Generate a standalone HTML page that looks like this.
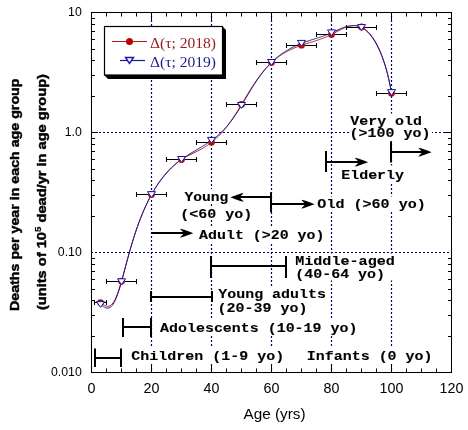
<!DOCTYPE html>
<html><head><meta charset="utf-8"><style>
html,body{margin:0;padding:0;background:#fff;width:468px;height:430px;overflow:hidden}
svg{position:absolute;left:0;top:0;display:block;will-change:transform}
</style></head><body>
<svg width="468" height="430" viewBox="0 0 468 430">
<line x1="151.5" y1="12" x2="151.5" y2="372" stroke="#00006a" stroke-width="1.2" stroke-dasharray="2 2" fill="none"/>
<line x1="211.5" y1="12" x2="211.5" y2="372" stroke="#00006a" stroke-width="1.2" stroke-dasharray="2 2" fill="none"/>
<line x1="271.5" y1="12" x2="271.5" y2="372" stroke="#00006a" stroke-width="1.2" stroke-dasharray="2 2" fill="none"/>
<line x1="331.5" y1="12" x2="331.5" y2="372" stroke="#00006a" stroke-width="1.2" stroke-dasharray="2 2" fill="none"/>
<line x1="391.5" y1="12" x2="391.5" y2="372" stroke="#00006a" stroke-width="1.2" stroke-dasharray="2 2" fill="none"/>
<line x1="91" y1="132.5" x2="451" y2="132.5" stroke="#00006a" stroke-width="1.2" stroke-dasharray="2 2" fill="none"/>
<line x1="91" y1="252.5" x2="451" y2="252.5" stroke="#00006a" stroke-width="1.2" stroke-dasharray="2 2" fill="none"/>
<rect x="349.5" y="113.5" width="82.5" height="28.0" fill="#fff"/>
<rect x="340.0" y="165.5" width="66.0" height="18.0" fill="#fff"/>
<rect x="182.0" y="189.0" width="48.0" height="14.5" fill="#fff"/>
<rect x="180.0" y="206.0" width="73.0" height="14.0" fill="#fff"/>
<rect x="315.0" y="196.5" width="110.0" height="15.5" fill="#fff"/>
<rect x="197.0" y="226.0" width="129.0" height="18.0" fill="#fff"/>
<rect x="293.0" y="253.5" width="102.0" height="27.0" fill="#fff"/>
<rect x="216.0" y="287.0" width="112.0" height="31.0" fill="#fff"/>
<rect x="158.0" y="319.0" width="200.0" height="17.0" fill="#fff"/>
<rect x="129.0" y="347.0" width="157.0" height="17.0" fill="#fff"/>
<rect x="305.0" y="347.0" width="127.0" height="17.0" fill="#fff"/>
<rect x="91.5" y="12.5" width="360" height="360" fill="none" stroke="#000" stroke-width="1.05"/>
<path d="M106.5,372V368.5 M106.5,13V16.5 M121.5,372V368.5 M121.5,13V16.5 M136.5,372V368.5 M136.5,13V16.5 M151.5,372V365.0 M151.5,13V20.0 M166.5,372V368.5 M166.5,13V16.5 M181.5,372V368.5 M181.5,13V16.5 M196.5,372V368.5 M196.5,13V16.5 M211.5,372V365.0 M211.5,13V20.0 M226.5,372V368.5 M226.5,13V16.5 M241.5,372V368.5 M241.5,13V16.5 M256.5,372V368.5 M256.5,13V16.5 M271.5,372V365.0 M271.5,13V20.0 M286.5,372V368.5 M286.5,13V16.5 M301.5,372V368.5 M301.5,13V16.5 M316.5,372V368.5 M316.5,13V16.5 M331.5,372V365.0 M331.5,13V20.0 M346.5,372V368.5 M346.5,13V16.5 M361.5,372V368.5 M361.5,13V16.5 M376.5,372V368.5 M376.5,13V16.5 M391.5,372V365.0 M391.5,13V20.0 M406.5,372V368.5 M406.5,13V16.5 M421.5,372V368.5 M421.5,13V16.5 M436.5,372V368.5 M436.5,13V16.5 M91,336.5H95.0 M452,336.5H448.0 M91,315.5H95.0 M452,315.5H448.0 M91,300.5H95.0 M452,300.5H448.0 M91,289.5H95.0 M452,289.5H448.0 M91,279.5H95.0 M452,279.5H448.0 M91,271.5H95.0 M452,271.5H448.0 M91,264.5H95.0 M452,264.5H448.0 M91,258.5H95.0 M452,258.5H448.0 M91,132.5H98.0 M452,132.5H445.0 M91,216.5H95.0 M452,216.5H448.0 M91,195.5H95.0 M452,195.5H448.0 M91,180.5H95.0 M452,180.5H448.0 M91,169.5H95.0 M452,169.5H448.0 M91,159.5H95.0 M452,159.5H448.0 M91,151.5H95.0 M452,151.5H448.0 M91,144.5H95.0 M452,144.5H448.0 M91,138.5H95.0 M452,138.5H448.0 M91,12.5H98.0 M452,12.5H445.0 M91,96.5H95.0 M452,96.5H448.0 M91,75.5H95.0 M452,75.5H448.0 M91,60.5H95.0 M452,60.5H448.0 M91,49.5H95.0 M452,49.5H448.0 M91,39.5H95.0 M452,39.5H448.0 M91,31.5H95.0 M452,31.5H448.0 M91,24.5H95.0 M452,24.5H448.0 M91,18.5H95.0 M452,18.5H448.0" stroke="#000" stroke-width="1" fill="none"/>
<path d="M95.0,348.5V367.0 M121.0,348.5V367.0 M95.0,358.0H121.0 M123.0,318.0V337.0 M151.0,318.0V337.0 M123.0,327.0H151.0 M151.0,291.0V302.0 M212.0,291.0V302.0 M151.0,297.0H212.0 M211.0,256.0V278.0 M286.0,256.0V278.0 M211.0,266.0H286.0 M271.0,192.2V212.2 M271.0,197.0H233.0 M272.0,204.0H310.0 M151.0,233.0H189.0 M326.0,151.0V172.0 M326.0,162.0H363.0 M391.0,141.3V162.5 M391.0,152.0H426.0" stroke="#000" stroke-width="2" fill="none"/>
<polygon points="431.60,152.20 428.00,150.80 422.50,148.80 418.60,147.70 419.00,148.70 421.40,151.10 421.40,153.30 419.00,155.70 418.60,156.70 422.50,155.60 428.00,153.60" fill="#000"/>
<polygon points="368.10,162.20 364.50,160.80 359.00,158.80 355.10,157.70 355.50,158.70 357.90,161.10 357.90,163.30 355.50,165.70 355.10,166.70 359.00,165.60 364.50,163.60" fill="#000"/>
<polygon points="314.60,204.20 311.00,202.80 305.50,200.80 301.60,199.70 302.00,200.70 304.40,203.10 304.40,205.30 302.00,207.70 301.60,208.70 305.50,207.60 311.00,205.60" fill="#000"/>
<polygon points="193.30,233.20 189.70,231.80 184.20,229.80 180.30,228.70 180.70,229.70 183.10,232.10 183.10,234.30 180.70,236.70 180.30,237.70 184.20,236.60 189.70,234.60" fill="#000"/>
<polygon points="230.40,197.30 234.00,195.90 239.50,193.90 243.40,192.80 243.00,193.80 240.60,196.20 240.60,198.40 243.00,200.80 243.40,201.80 239.50,200.70 234.00,198.70" fill="#000"/>
<path d="M100.50,302.60 L101.47,303.32 L102.45,304.03 L103.42,304.69 L104.39,305.29 L105.37,305.78 L106.34,306.15 L107.31,306.35 L108.29,306.37 L109.26,306.17 L110.23,305.73 L111.21,305.03 L112.18,304.05 L113.15,302.79 L114.13,301.24 L115.10,299.41 L116.07,297.29 L117.05,294.91 L118.02,292.28 L118.99,289.43 L119.96,286.37 L120.94,283.14 L121.91,279.75 L122.88,276.25 L123.86,272.68 L124.83,269.07 L125.80,265.45 L126.78,261.86 L127.75,258.30 L128.72,254.79 L129.70,251.35 L130.67,247.98 L131.64,244.68 L132.62,241.47 L133.59,238.34 L134.56,235.29 L135.54,232.33 L136.51,229.45 L137.48,226.65 L138.46,223.93 L139.43,221.30 L140.40,218.74 L141.38,216.26 L142.35,213.86 L143.32,211.52 L144.30,209.26 L145.27,207.06 L146.24,204.93 L147.22,202.87 L148.19,200.87 L149.16,198.92 L150.14,197.04 L151.11,195.22 L152.08,193.45 L153.06,191.73 L154.03,190.07 L155.00,188.46 L155.97,186.89 L156.95,185.38 L157.92,183.90 L158.89,182.48 L159.87,181.09 L160.84,179.75 L161.81,178.44 L162.79,177.18 L163.76,175.95 L164.73,174.77 L165.71,173.62 L166.68,172.50 L167.65,171.42 L168.63,170.37 L169.60,169.36 L170.57,168.38 L171.55,167.43 L172.52,166.52 L173.49,165.63 L174.47,164.78 L175.44,163.96 L176.41,163.17 L177.39,162.40 L178.36,161.67 L179.33,160.97 L180.31,160.29 L181.28,159.64 L182.25,159.02 L183.23,158.43 L184.20,157.86 L185.17,157.31 L186.15,156.78 L187.12,156.26 L188.09,155.76 L189.07,155.26 L190.04,154.78 L191.01,154.30 L191.98,153.82 L192.96,153.34 L193.93,152.86 L194.90,152.39 L195.88,151.90 L196.85,151.41 L197.82,150.91 L198.80,150.40 L199.77,149.89 L200.74,149.35 L201.72,148.81 L202.69,148.25 L203.66,147.67 L204.64,147.08 L205.61,146.46 L206.58,145.83 L207.56,145.18 L208.53,144.50 L209.50,143.80 L210.48,143.08 L211.45,142.34 L212.42,141.57 L213.40,140.78 L214.37,139.96 L215.34,139.11 L216.32,138.23 L217.29,137.31 L218.26,136.37 L219.24,135.39 L220.21,134.38 L221.18,133.33 L222.16,132.25 L223.13,131.14 L224.10,129.99 L225.08,128.81 L226.05,127.59 L227.02,126.34 L227.99,125.06 L228.97,123.74 L229.94,122.40 L230.91,121.02 L231.89,119.62 L232.86,118.19 L233.83,116.73 L234.81,115.25 L235.78,113.75 L236.75,112.22 L237.73,110.67 L238.70,109.10 L239.67,107.52 L240.65,105.92 L241.62,104.30 L242.59,102.67 L243.57,101.03 L244.54,99.39 L245.51,97.76 L246.49,96.12 L247.46,94.50 L248.43,92.90 L249.41,91.31 L250.38,89.74 L251.35,88.19 L252.33,86.66 L253.30,85.16 L254.27,83.68 L255.25,82.23 L256.22,80.81 L257.19,79.42 L258.17,78.06 L259.14,76.73 L260.11,75.42 L261.09,74.16 L262.06,72.92 L263.03,71.71 L264.01,70.54 L264.98,69.40 L265.95,68.29 L266.92,67.22 L267.90,66.17 L268.87,65.16 L269.84,64.19 L270.82,63.24 L271.79,62.33 L272.76,61.45 L273.74,60.60 L274.71,59.79 L275.68,59.00 L276.66,58.23 L277.63,57.50 L278.60,56.78 L279.58,56.09 L280.55,55.43 L281.52,54.78 L282.50,54.16 L283.47,53.56 L284.44,52.97 L285.42,52.40 L286.39,51.86 L287.36,51.32 L288.34,50.81 L289.31,50.31 L290.28,49.83 L291.26,49.36 L292.23,48.90 L293.20,48.46 L294.18,48.03 L295.15,47.62 L296.12,47.22 L297.10,46.83 L298.07,46.45 L299.04,46.08 L300.02,45.72 L300.99,45.38 L301.96,45.04 L302.93,44.72 L303.91,44.40 L304.88,44.09 L305.85,43.78 L306.83,43.48 L307.80,43.18 L308.77,42.89 L309.75,42.59 L310.72,42.30 L311.69,42.01 L312.67,41.71 L313.64,41.41 L314.61,41.11 L315.59,40.81 L316.56,40.50 L317.53,40.18 L318.51,39.86 L319.48,39.52 L320.45,39.18 L321.43,38.83 L322.40,38.47 L323.37,38.10 L324.35,37.72 L325.32,37.33 L326.29,36.92 L327.27,36.50 L328.24,36.06 L329.21,35.62 L330.19,35.15 L331.16,34.67 L332.13,34.18 L333.11,33.67 L334.08,33.15 L335.05,32.63 L336.03,32.10 L337.00,31.57 L337.97,31.05 L338.94,30.54 L339.92,30.04 L340.89,29.55 L341.86,29.07 L342.84,28.62 L343.81,28.18 L344.78,27.77 L345.76,27.39 L346.73,27.04 L347.70,26.71 L348.68,26.43 L349.65,26.17 L350.62,25.96 L351.60,25.79 L352.57,25.66 L353.54,25.57 L354.52,25.54 L355.49,25.55 L356.46,25.63 L357.44,25.76 L358.41,25.95 L359.38,26.20 L360.36,26.53 L361.33,26.92 L362.30,27.40 L363.28,27.95 L364.25,28.58 L365.22,29.29 L366.20,30.08 L367.17,30.95 L368.14,31.90 L369.12,32.93 L370.09,34.05 L371.06,35.25 L372.04,36.54 L373.01,37.93 L373.98,39.41 L374.95,41.00 L375.93,42.68 L376.90,44.48 L377.87,46.40 L378.85,48.44 L379.82,50.61 L380.79,52.92 L381.77,55.39 L382.74,58.03 L383.71,60.85 L384.69,63.86 L385.66,67.10 L386.63,70.59 L387.61,74.36 L388.58,78.45 L389.55,82.90 L390.53,87.79 L391.50,93.20" stroke="#b01818" stroke-width="1" fill="none"/>
<path d="M100.50,304.45 L101.47,305.17 L102.45,305.88 L103.42,306.54 L104.39,307.13 L105.37,307.61 L106.34,307.96 L107.31,308.14 L108.29,308.12 L109.26,307.87 L110.23,307.37 L111.21,306.61 L112.18,305.55 L113.15,304.21 L114.13,302.56 L115.10,300.62 L116.07,298.40 L117.05,295.91 L118.02,293.17 L118.99,290.20 L119.96,287.04 L120.94,283.70 L121.91,280.21 L122.88,276.61 L123.86,272.95 L124.83,269.26 L125.80,265.57 L126.78,261.92 L127.75,258.30 L128.72,254.75 L129.70,251.27 L130.67,247.86 L131.64,244.54 L132.62,241.30 L133.59,238.15 L134.56,235.09 L135.54,232.12 L136.51,229.24 L137.48,226.44 L138.46,223.73 L139.43,221.10 L140.40,218.56 L141.38,216.09 L142.35,213.70 L143.32,211.38 L144.30,209.14 L145.27,206.97 L146.24,204.86 L147.22,202.83 L148.19,200.85 L149.16,198.94 L150.14,197.09 L151.11,195.30 L152.08,193.57 L153.06,191.89 L154.03,190.27 L155.00,188.69 L155.97,187.17 L156.95,185.69 L157.92,184.25 L158.89,182.85 L159.87,181.50 L160.84,180.18 L161.81,178.90 L162.79,177.66 L163.76,176.45 L164.73,175.27 L165.71,174.13 L166.68,173.02 L167.65,171.93 L168.63,170.88 L169.60,169.86 L170.57,168.86 L171.55,167.89 L172.52,166.95 L173.49,166.04 L174.47,165.14 L175.44,164.28 L176.41,163.43 L177.39,162.61 L178.36,161.82 L179.33,161.04 L180.31,160.29 L181.28,159.56 L182.25,158.85 L183.23,158.17 L184.20,157.49 L185.17,156.84 L186.15,156.20 L187.12,155.57 L188.09,154.95 L189.07,154.35 L190.04,153.75 L191.01,153.15 L191.98,152.56 L192.96,151.98 L193.93,151.40 L194.90,150.82 L195.88,150.24 L196.85,149.66 L197.82,149.08 L198.80,148.50 L199.77,147.91 L200.74,147.32 L201.72,146.73 L202.69,146.12 L203.66,145.52 L204.64,144.90 L205.61,144.28 L206.58,143.64 L207.56,143.00 L208.53,142.35 L209.50,141.69 L210.48,141.02 L211.45,140.34 L212.42,139.64 L213.40,138.93 L214.37,138.20 L215.34,137.46 L216.32,136.69 L217.29,135.89 L218.26,135.07 L219.24,134.22 L220.21,133.34 L221.18,132.42 L222.16,131.47 L223.13,130.49 L224.10,129.47 L225.08,128.42 L226.05,127.32 L227.02,126.19 L227.99,125.03 L228.97,123.83 L229.94,122.59 L230.91,121.31 L231.89,120.00 L232.86,118.66 L233.83,117.28 L234.81,115.87 L235.78,114.43 L236.75,112.96 L237.73,111.46 L238.70,109.93 L239.67,108.38 L240.65,106.80 L241.62,105.20 L242.59,103.58 L243.57,101.95 L244.54,100.31 L245.51,98.66 L246.49,97.02 L247.46,95.38 L248.43,93.76 L249.41,92.14 L250.38,90.54 L251.35,88.96 L252.33,87.40 L253.30,85.87 L254.27,84.35 L255.25,82.86 L256.22,81.40 L257.19,79.97 L258.17,78.56 L259.14,77.19 L260.11,75.84 L261.09,74.52 L262.06,73.24 L263.03,71.98 L264.01,70.76 L264.98,69.57 L265.95,68.41 L266.92,67.28 L267.90,66.18 L268.87,65.12 L269.84,64.08 L270.82,63.08 L271.79,62.11 L272.76,61.18 L273.74,60.27 L274.71,59.39 L275.68,58.54 L276.66,57.72 L277.63,56.92 L278.60,56.15 L279.58,55.40 L280.55,54.67 L281.52,53.96 L282.50,53.28 L283.47,52.61 L284.44,51.97 L285.42,51.34 L286.39,50.74 L287.36,50.15 L288.34,49.58 L289.31,49.02 L290.28,48.48 L291.26,47.96 L292.23,47.45 L293.20,46.96 L294.18,46.48 L295.15,46.01 L296.12,45.56 L297.10,45.12 L298.07,44.70 L299.04,44.29 L300.02,43.89 L300.99,43.50 L301.96,43.12 L302.93,42.76 L303.91,42.40 L304.88,42.06 L305.85,41.72 L306.83,41.39 L307.80,41.07 L308.77,40.75 L309.75,40.43 L310.72,40.12 L311.69,39.81 L312.67,39.50 L313.64,39.19 L314.61,38.89 L315.59,38.58 L316.56,38.27 L317.53,37.96 L318.51,37.64 L319.48,37.32 L320.45,37.00 L321.43,36.67 L322.40,36.33 L323.37,35.99 L324.35,35.64 L325.32,35.29 L326.29,34.92 L327.27,34.55 L328.24,34.16 L329.21,33.77 L330.19,33.36 L331.16,32.95 L332.13,32.52 L333.11,32.09 L334.08,31.64 L335.05,31.20 L336.03,30.75 L337.00,30.31 L337.97,29.87 L338.94,29.45 L339.92,29.03 L340.89,28.62 L341.86,28.23 L342.84,27.86 L343.81,27.51 L344.78,27.19 L345.76,26.89 L346.73,26.61 L347.70,26.37 L348.68,26.16 L349.65,25.98 L350.62,25.84 L351.60,25.73 L352.57,25.67 L353.54,25.65 L354.52,25.68 L355.49,25.76 L356.46,25.88 L357.44,26.07 L358.41,26.31 L359.38,26.61 L360.36,26.98 L361.33,27.42 L362.30,27.93 L363.28,28.51 L364.25,29.17 L365.22,29.90 L366.20,30.71 L367.17,31.60 L368.14,32.56 L369.12,33.61 L370.09,34.73 L371.06,35.94 L372.04,37.24 L373.01,38.62 L373.98,40.10 L374.95,41.67 L375.93,43.34 L376.90,45.12 L377.87,47.02 L378.85,49.03 L379.82,51.17 L380.79,53.44 L381.77,55.87 L382.74,58.45 L383.71,61.21 L384.69,64.15 L385.66,67.31 L386.63,70.70 L387.61,74.36 L388.58,78.32 L389.55,82.62 L390.53,87.32 L391.50,92.50" stroke="#1a1a96" stroke-width="1" fill="none"/>
<path d="M94.5,302.5H106.5 M94.5,300.0V305.0 M106.5,300.0V305.0 M106.5,281.5H136.5 M106.5,279.0V284.0 M136.5,279.0V284.0 M136.5,194.5H166.5 M136.5,192.0V197.0 M166.5,192.0V197.0 M166.5,159.5H196.5 M166.5,157.0V162.0 M196.5,157.0V162.0 M196.5,142.5H226.5 M196.5,140.0V145.0 M226.5,140.0V145.0 M226.5,104.5H256.5 M226.5,102.0V107.0 M256.5,102.0V107.0 M256.5,62.5H286.5 M256.5,60.0V65.0 M286.5,60.0V65.0 M286.5,45.5H316.5 M286.5,43.0V48.0 M316.5,43.0V48.0 M316.5,34.5H346.5 M316.5,32.0V37.0 M346.5,32.0V37.0 M346.5,27.5H376.5 M346.5,25.0V30.0 M376.5,25.0V30.0 M376.5,93.5H406.5 M376.5,91.0V96.0 M406.5,91.0V96.0" stroke="#000" stroke-width="1.05" fill="none"/>
<circle cx="100.5" cy="302.6" r="3.4" fill="#b80c14"/>
<polygon points="96.5,301.6 104.5,301.6 100.5,307.4" fill="#fff" stroke="#1010a0" stroke-width="1.0"/>
<circle cx="121.5" cy="281.2" r="3.4" fill="#b80c14"/>
<polygon points="117.5,278.8 125.5,278.8 121.5,284.7" fill="#fff" stroke="#1010a0" stroke-width="1.0"/>
<circle cx="151.5" cy="194.5" r="3.4" fill="#b80c14"/>
<polygon points="147.5,191.7 155.5,191.7 151.5,197.6" fill="#fff" stroke="#1010a0" stroke-width="1.0"/>
<circle cx="181.5" cy="159.5" r="3.4" fill="#b80c14"/>
<polygon points="177.5,156.5 185.5,156.5 181.5,162.4" fill="#fff" stroke="#1010a0" stroke-width="1.0"/>
<circle cx="211.5" cy="142.3" r="3.4" fill="#b80c14"/>
<polygon points="207.5,137.4 215.5,137.4 211.5,143.3" fill="#fff" stroke="#1010a0" stroke-width="1.0"/>
<circle cx="241.5" cy="104.5" r="3.4" fill="#b80c14"/>
<polygon points="237.5,102.5 245.5,102.5 241.5,108.4" fill="#fff" stroke="#1010a0" stroke-width="1.0"/>
<circle cx="271.5" cy="62.6" r="3.4" fill="#b80c14"/>
<polygon points="267.5,59.5 275.5,59.5 271.5,65.4" fill="#fff" stroke="#1010a0" stroke-width="1.0"/>
<circle cx="301.5" cy="45.2" r="3.4" fill="#b80c14"/>
<polygon points="297.5,40.4 305.5,40.4 301.5,46.3" fill="#fff" stroke="#1010a0" stroke-width="1.0"/>
<circle cx="331.5" cy="34.5" r="3.4" fill="#b80c14"/>
<polygon points="327.5,29.9 335.5,29.9 331.5,35.8" fill="#fff" stroke="#1010a0" stroke-width="1.0"/>
<circle cx="361.5" cy="27.0" r="3.4" fill="#b80c14"/>
<polygon points="357.5,24.6 365.5,24.6 361.5,30.5" fill="#fff" stroke="#1010a0" stroke-width="1.0"/>
<circle cx="391.5" cy="93.2" r="3.4" fill="#b80c14"/>
<polygon points="387.5,89.6 395.5,89.6 391.5,95.5" fill="#fff" stroke="#1010a0" stroke-width="1.0"/>
<polygon points="104,75 222,75 222,26 226,30 226,79 108,79" fill="#000"/>
<rect x="104.5" y="26.5" width="118" height="48.5" fill="#fff" stroke="#000" stroke-width="1.2"/>
<line x1="112" y1="41.5" x2="147" y2="41.5" stroke="#b01818" stroke-width="1.2"/>
<circle cx="129.5" cy="41.5" r="3.5" fill="#c00000"/>
<line x1="120" y1="60.5" x2="145" y2="60.5" stroke="#1a1a96" stroke-width="1.2"/>
<polygon points="125.5,57.5 133.5,57.5 129.5,63.5" fill="#fff" stroke="#1a1aa0" stroke-width="1.4"/>
<text x="150" y="48" font-family="Liberation Serif" font-size="15.5" fill="#9a1a22" textLength="66" lengthAdjust="spacingAndGlyphs">&#916;(&#964;; 2018)</text>
<text x="150" y="67" font-family="Liberation Serif" font-size="15.5" fill="#1c1c8c" textLength="66" lengthAdjust="spacingAndGlyphs">&#916;(&#964;; 2019)</text>
<text x="350.28" y="124.90" font-family="Liberation Mono" font-weight="bold" font-size="12.20" fill="#000" stroke="#000" stroke-width="0.1" textLength="71.74" lengthAdjust="spacingAndGlyphs">Very old</text>
<text x="349.48" y="137.40" font-family="Liberation Mono" font-weight="bold" font-size="12.20" fill="#000" stroke="#000" stroke-width="0.1" textLength="80.93" lengthAdjust="spacingAndGlyphs">(&gt;100 yo)</text>
<text x="341.20" y="178.60" font-family="Liberation Mono" font-weight="bold" font-size="12.20" fill="#000" stroke="#000" stroke-width="0.1" textLength="62.89" lengthAdjust="spacingAndGlyphs">Elderly</text>
<text x="184.48" y="200.50" font-family="Liberation Mono" font-weight="bold" font-size="12.20" fill="#000" stroke="#000" stroke-width="0.1" textLength="43.94" lengthAdjust="spacingAndGlyphs">Young</text>
<text x="180.28" y="217.60" font-family="Liberation Mono" font-weight="bold" font-size="12.20" fill="#000" stroke="#000" stroke-width="0.1" textLength="72.04" lengthAdjust="spacingAndGlyphs">(&lt;60 yo)</text>
<text x="317.37" y="207.80" font-family="Liberation Mono" font-weight="bold" font-size="12.20" fill="#000" stroke="#000" stroke-width="0.1" textLength="108.46" lengthAdjust="spacingAndGlyphs">Old (&gt;60 yo)</text>
<text x="199.10" y="238.90" font-family="Liberation Mono" font-weight="bold" font-size="12.20" fill="#000" stroke="#000" stroke-width="0.1" textLength="125.41" lengthAdjust="spacingAndGlyphs">Adult (&gt;20 yo)</text>
<text x="295.17" y="264.60" font-family="Liberation Mono" font-weight="bold" font-size="12.20" fill="#000" stroke="#000" stroke-width="0.1" textLength="99.66" lengthAdjust="spacingAndGlyphs">Middle-aged</text>
<text x="295.18" y="277.60" font-family="Liberation Mono" font-weight="bold" font-size="12.20" fill="#000" stroke="#000" stroke-width="0.1" textLength="89.93" lengthAdjust="spacingAndGlyphs">(40-64 yo)</text>
<text x="218.28" y="298.40" font-family="Liberation Mono" font-weight="bold" font-size="12.20" fill="#000" stroke="#000" stroke-width="0.1" textLength="107.63" lengthAdjust="spacingAndGlyphs">Young adults</text>
<text x="217.58" y="311.50" font-family="Liberation Mono" font-weight="bold" font-size="12.20" fill="#000" stroke="#000" stroke-width="0.1" textLength="90.04" lengthAdjust="spacingAndGlyphs">(20-39 yo)</text>
<text x="160.10" y="331.50" font-family="Liberation Mono" font-weight="bold" font-size="12.20" fill="#000" stroke="#000" stroke-width="0.1" textLength="197.31" lengthAdjust="spacingAndGlyphs">Adolescents (10-19 yo)</text>
<text x="131.31" y="360.00" font-family="Liberation Mono" font-weight="bold" font-size="12.20" fill="#000" stroke="#000" stroke-width="0.1" textLength="152.90" lengthAdjust="spacingAndGlyphs">Children (1-9 yo)</text>
<text x="306.85" y="360.00" font-family="Liberation Mono" font-weight="bold" font-size="12.20" fill="#000" stroke="#000" stroke-width="0.1" textLength="125.66" lengthAdjust="spacingAndGlyphs">Infants (0 yo)</text>
<text x="91.5" y="393" font-family="Liberation Sans" fill="#000" font-size="14.3" text-anchor="middle">0</text>
<text x="151.5" y="393" font-family="Liberation Sans" fill="#000" font-size="14.3" text-anchor="middle">20</text>
<text x="211.5" y="393" font-family="Liberation Sans" fill="#000" font-size="14.3" text-anchor="middle">40</text>
<text x="271.5" y="393" font-family="Liberation Sans" fill="#000" font-size="14.3" text-anchor="middle">60</text>
<text x="331.5" y="393" font-family="Liberation Sans" fill="#000" font-size="14.3" text-anchor="middle">80</text>
<text x="391.5" y="393" font-family="Liberation Sans" fill="#000" font-size="14.3" text-anchor="middle">100</text>
<text x="451.5" y="393" font-family="Liberation Sans" fill="#000" font-size="14.3" text-anchor="middle">120</text>
<text x="81.8" y="15.8" font-family="Liberation Sans" fill="#000" font-size="12.3" text-anchor="end">10</text>
<text x="81.8" y="135.8" font-family="Liberation Sans" fill="#000" font-size="12.3" text-anchor="end">1.0</text>
<text x="81.8" y="255.8" font-family="Liberation Sans" fill="#000" font-size="12.3" text-anchor="end">0.10</text>
<text x="81.8" y="375.8" font-family="Liberation Sans" fill="#000" font-size="12.3" text-anchor="end">0.010</text>
<text x="243.6" y="419" font-family="Liberation Sans" fill="#000" font-size="14.5" textLength="62" lengthAdjust="spacingAndGlyphs">Age (yrs)</text>
<g transform="translate(18.7,311) rotate(-90)"><text x="0" y="0" font-family="Liberation Sans" fill="#000" font-weight="bold" font-size="13.2" stroke="#000" stroke-width="0.45" textLength="232.5" lengthAdjust="spacingAndGlyphs">Deaths per year in each age group</text></g>
<g transform="translate(46,310) rotate(-90)"><text x="0" y="0" font-family="Liberation Sans" fill="#000" font-weight="bold" font-size="13.2" stroke="#000" stroke-width="0.45" textLength="236" lengthAdjust="spacingAndGlyphs">(units of 10<tspan dy="-5.5" font-size="9" stroke-width="0.2">5</tspan><tspan dy="5.5"> dead/yr in age group)</tspan></text></g>
</svg>
</body></html>
